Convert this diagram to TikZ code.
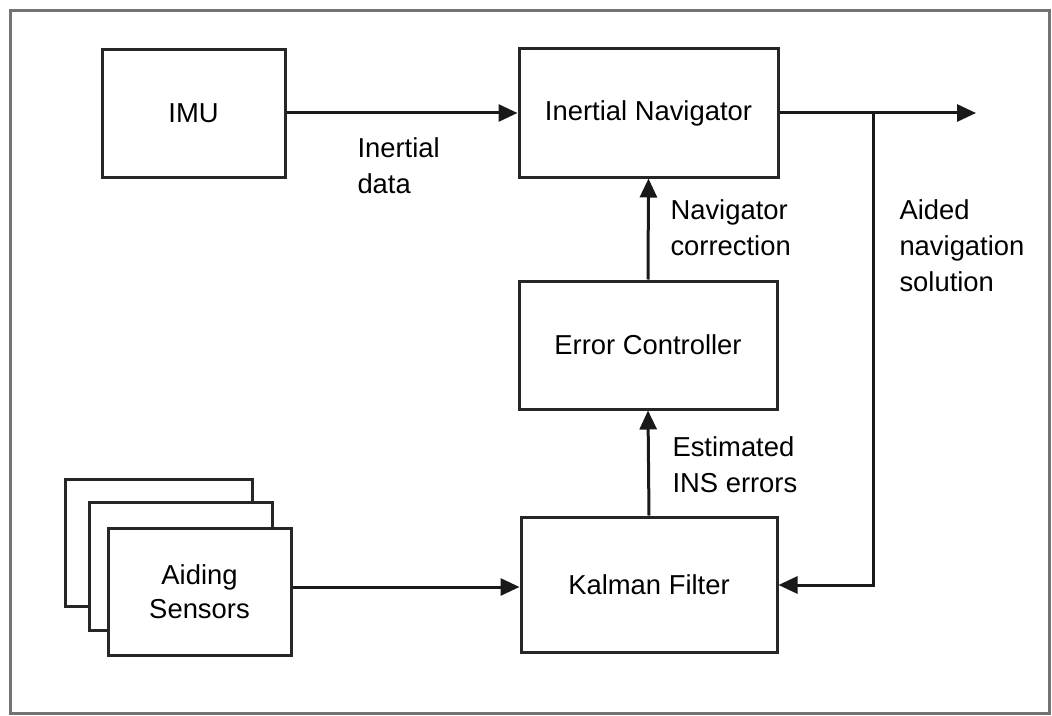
\documentclass[tikz,border=0pt]{standalone}
\usepackage{fontspec}
\setmainfont{Liberation Sans}
\usetikzlibrary{arrows.meta}
\begin{document}
\begin{tikzpicture}[x=1bp,y=-1bp,
  line width=3bp,
  blk/.style={draw=black!85, fill=white, inner sep=0pt, align=center,
    font=\fontsize{27.5}{34}\selectfont},
  lbl/.style={anchor=west, inner sep=0pt, align=left,
    font=\fontsize{27.5}{36}\selectfont},
  flow/.style={draw=black!90, -{Triangle[length=19bp,width=17bp]}},
  wire/.style={draw=black!90}]
\useasboundingbox (0,0) rectangle (1052,716);
% outer frame
\draw[draw=black!55, line width=3bp] (10,11) rectangle (1049,713);

% main blocks
\node[blk, minimum width=183bp, minimum height=127bp] (imu) at (193.5,113.5) {\raisebox{-2bp}{IMU}};
\node[blk, minimum width=259bp, minimum height=128bp] (nav) at (648.5,113) {\raisebox{-3bp}{Inertial Navigator}};
\node[blk, minimum width=258bp, minimum height=128bp] (ctl) at (648,345) {Error Controller};
\node[blk, minimum width=256bp, minimum height=135bp] (kf) at (649,584.5) {Kalman Filter};

% stacked aiding sensors
\node[blk, minimum width=186bp, minimum height=127bp] (sb) at (159,542.5) {};
\node[blk, minimum width=182bp, minimum height=128bp] (sm) at (181,566) {};
\node[blk, minimum width=183bp, minimum height=127bp] (aid) at (199.5,591.5) {Aiding\\Sensors};

% labels
\node[lbl] (ldata) at (356,166) {Inertial\\data};
\node[lbl] (lcorr) at (669,228) {Navigator\\correction};
\node[lbl] (lsol) at (898,246) {Aided\\navigation\\solution};
\node[lbl] (lerr) at (671,465) {Estimated\\INS errors};

% connectors
\coordinate (out) at (976,113);
\coordinate (br) at (873,113);
\coordinate (bk) at (873,585);
\draw[flow] (imu.east |- 0,113) -- (nav.west |- 0,113);
\draw[wire] (nav.east |- 0,113) -- (br);
\draw[flow] (br) -- (out);
\draw[flow] (br) -- (bk) -- (kf.east |- bk);
\draw[flow] (kf.north) -- (ctl.south);
\draw[flow] (ctl.north) -- (nav.south);
\draw[flow] (aid.east |- 0,587) -- (kf.west |- 0,587);
\end{tikzpicture}
\end{document}
